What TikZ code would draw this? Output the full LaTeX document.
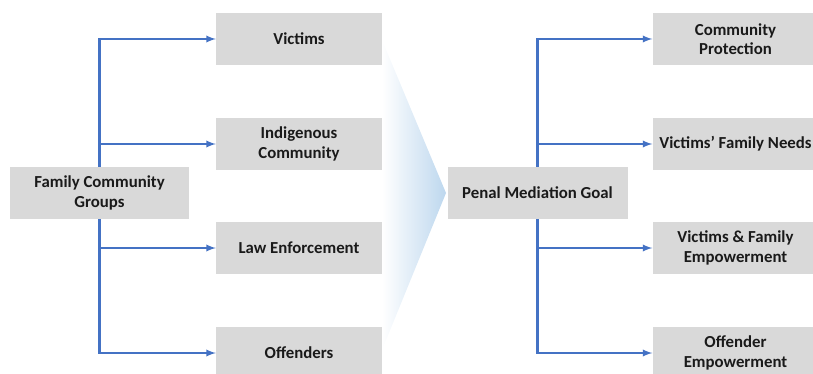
\documentclass[tikz,border=0pt]{standalone}
\usepackage{fontspec}
\setmainfont{Carlito}
\usepackage{xcolor}
\usetikzlibrary{arrows}
\definecolor{boxgray}{HTML}{D9D9D9}
\definecolor{linkblue}{HTML}{4472C4}
\definecolor{chevblue}{HTML}{BDD7EE}
\definecolor{textgray}{HTML}{1A1A1A}
\tikzset{
	box/.style={fill=boxgray, minimum width=166pt, minimum height=52pt, align=center,
		inner sep=2pt, text=textgray, font=\fontsize{16.8}{19.5}\selectfont\bfseries},
	link/.style={draw=linkblue, line width=2.2pt, -latex}
}

\begin{document}
\begin{tikzpicture}[x=1pt,y=-1pt]
			\useasboundingbox (0,0) rectangle (813,374);
			\shade[left color=white, right color=chevblue] (382,40) -- (446,193) -- (382,350) -- cycle;
			%
			\node[box, minimum width=179pt] (FCG) at (99.5,193) {Family Community\\Groups};
			\node[box] (V) at (299,39) {Victims};
			\node[box] (IC) at (299,144) {Indigenous\\Community};
			\node[box] (LE) at (299,248) {Law Enforcement};
			\node[box] (O) at (299,353) {Offenders};
			%
			\node[box, minimum width=180pt] (PMG) at (537.5,193) {Penal Mediation Goal};
			\node[box] (CP) at (735.5,39) {Community\\Protection};
			\node[box] (VFN) at (735.5,144) {Victims’ Family Needs};
			\node[box] (VFE) at (735.5,248) {Victims \& Family\\Empowerment};
			\node[box] (OE) at (735.5,353) {Offender\\Empowerment};
			%
			\draw[link] (FCG) |- (V);
			\draw[link] (FCG) |- (IC);
			\draw[link] (FCG) |- (LE);
			\draw[link] (FCG) |- (O);
			\draw[link] (PMG) |- (CP);
			\draw[link] (PMG) |- (VFN);
			\draw[link] (PMG) |- (VFE);
			\draw[link] (PMG) |- (OE);
		\end{tikzpicture}
\end{document}
